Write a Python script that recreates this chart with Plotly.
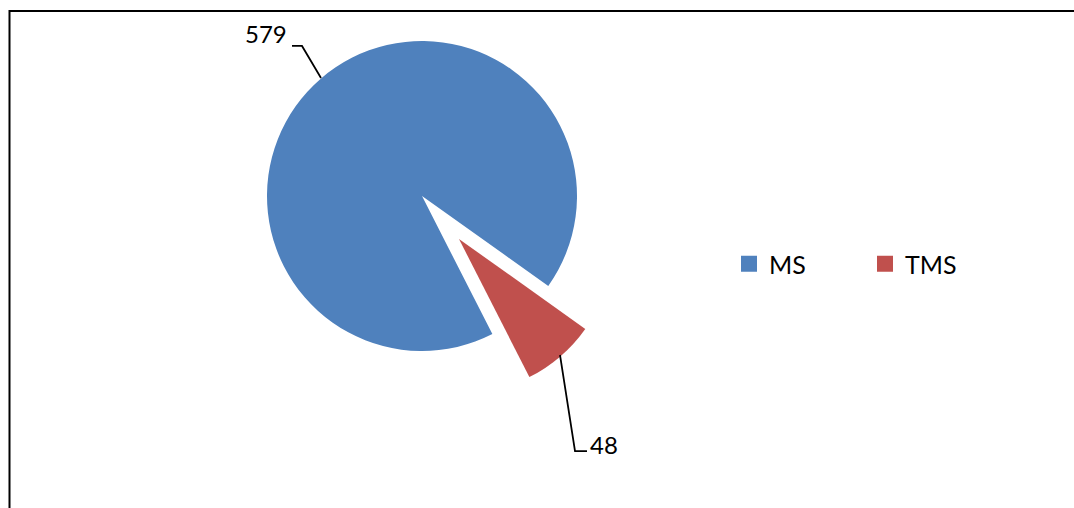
import plotly.graph_objects as go

W, H = 1074, 508

LABELS = ["MS", "TMS"]
VALUES = [579, 48]
COLORS = ["#4F81BD", "#C0504D"]
CLEAR = "rgba(0,0,0,0)"
FONT = "Lato, 'Open Sans', sans-serif"


def px(x, y):
    # pixel position -> paper fraction
    return x / W, 1 - y / H


def box(cx, cy, r):
    x0, y1 = px(cx - r, cy - r)
    x1, y0 = px(cx + r, cy + r)
    return dict(x=[x0, x1], y=[y0, y1])


def path(points):
    parts = []
    for i, (x, y) in enumerate(points):
        fx, fy = px(x, y)
        parts.append(("M" if i == 0 else "L") + f"{fx:.5f},{fy:.5f}")
    return " ".join(parts)


fig = go.Figure()

# main pie (MS) and the exploded TMS slice drawn as a second, offset pie
fig.add_trace(go.Pie(
    labels=LABELS, values=VALUES, sort=False, direction="clockwise", rotation=153,
    marker=dict(colors=[COLORS[0], CLEAR], line=dict(width=0)),
    textinfo="none", hoverinfo="label+value", showlegend=False,
    domain=box(422, 196, 155),
))
fig.add_trace(go.Pie(
    labels=LABELS, values=VALUES, sort=False, direction="clockwise", rotation=153,
    marker=dict(colors=[CLEAR, COLORS[1]], line=dict(width=0)),
    textinfo="none", hoverinfo="label+value", showlegend=False,
    domain=box(459, 239, 155),
))

# legend entries
for name, color in zip(LABELS, COLORS):
    fig.add_trace(go.Scatter(
        x=[None], y=[None], mode="markers", name=name,
        marker=dict(symbol="square", size=16, color=color),
    ))

# data labels with leader lines
ax, ay = px(266, 34)
bx, by = px(604, 444)
fig.add_annotation(x=ax, y=ay, xref="paper", yref="paper", text=str(VALUES[0]),
                   xanchor="center", yanchor="middle",
                   showarrow=False, font=dict(size=24, color="#000"))
fig.add_annotation(x=bx, y=by, xref="paper", yref="paper", text=str(VALUES[1]),
                   xanchor="center", yanchor="middle",
                   showarrow=False, font=dict(size=24, color="#000"))
fig.add_shape(type="path", xref="paper", yref="paper",
              path=path([(292, 46), (302, 46), (321, 78)]),
              line=dict(color="#000", width=1.75))
fig.add_shape(type="path", xref="paper", yref="paper",
              path=path([(560, 355), (575, 451), (587, 451)]),
              line=dict(color="#000", width=1.75))

# chart frame (only left and top edges fall inside the view)
fx0, fy1 = px(9.5, 11)
fig.add_shape(type="rect", xref="paper", yref="paper",
              x0=fx0, x1=1.05, y0=-0.1, y1=fy1,
              line=dict(color="#000", width=2))

lx, ly = px(729, 264)
fig.update_layout(
    width=W, height=H,
    margin=dict(l=0, r=0, t=0, b=0, autoexpand=False),
    paper_bgcolor="white", plot_bgcolor="white",
    font=dict(family=FONT, size=24, color="#000"),
    xaxis=dict(visible=False), yaxis=dict(visible=False),
    legend=dict(orientation="h", x=lx, y=ly, xanchor="left", yanchor="middle",
                entrywidth=91, entrywidthmode="pixels",
                bgcolor="rgba(0,0,0,0)", font=dict(size=25)),
)

fig.write_html("out.html", config={"displayModeBar": False},
               post_script="document.body.style.margin='0';")
